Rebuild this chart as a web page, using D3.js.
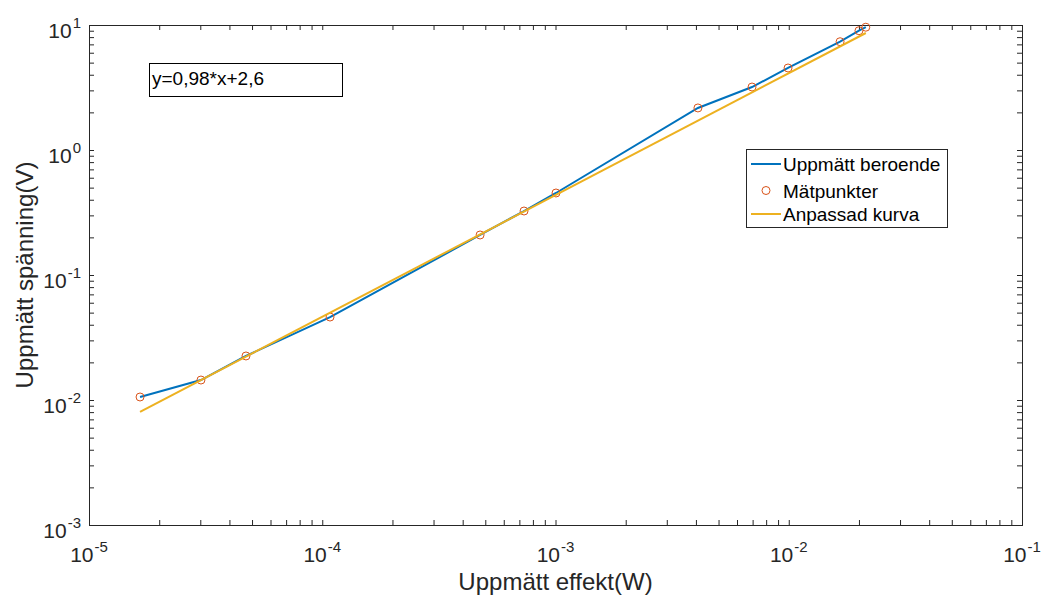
<!DOCTYPE html>
<html>
<head>
<meta charset="utf-8">
<script src="https://cdn.jsdelivr.net/npm/d3@7"></script>
<style>
  body { margin: 0; background: #fff; }
  svg { font-family: "Liberation Sans", Arial, sans-serif; }
</style>
</head>
<body>
<svg id="chart" width="1042" height="596"></svg>
<script>
"use strict";

const effekt = [1.655e-5, 3.02e-5, 4.71e-5, 1.08e-4, 4.75e-4, 7.33e-4, 1.005e-3,
  4.08e-3, 6.96e-3, 9.93e-3, 1.66e-2, 2.0e-2, 2.14e-2];
const spanning = [0.01057, 0.01445, 0.0225, 0.0461, 0.209, 0.325, 0.453,
  2.17, 3.19, 4.53, 7.35, 9.0, 9.6];

// Fitted curve end points
const fitX = [1.655e-5, 2.14e-2];
const fitY = [0.00802, 8.63];

const xMajor = [1e-5, 1e-4, 1e-3, 1e-2, 1e-1];
const xExp = ["-5", "-4", "-3", "-2", "-1"];
const yMajor = [1e-3, 1e-2, 1e-1, 1e0, 1e1];
const yExp = ["-3", "-2", "-1", "0", "1"];

const legendLabels = ["Uppmätt beroende", "Mätpunkter", "Anpassad kurva"];
const equationText = "y=0,98*x+2,6";
const xTitle = "Uppmätt effekt(W)";
const yTitle = "Uppmätt spänning(V)";

const colors = {
  line: "#0072BD",
  marker: "#D95319",
  fit: "#EDB120",
  axis: "#262626"
};

var graph = {};
graph.svg = d3.select("#chart");
graph.margins = { top: 25, right: 20, bottom: 71, left: 89 };
graph.width = 1042 - graph.margins.left - graph.margins.right;
graph.height = 596 - graph.margins.top - graph.margins.bottom;

graph.main_g = graph.svg.append("g")
  .attr("transform", "translate(" + graph.margins.left + "," + graph.margins.top + ")");

var x = d3.scaleLog().domain([1e-5, 1e-1]).range([0, graph.width]);
var y = d3.scaleLog().domain([1e-3, 1e1]).range([graph.height, 0]);

function minors(domain) {
  let out = [];
  for (let e = Math.log10(domain[0]); e < Math.log10(domain[1]); e++) {
    for (let k = 1; k <= 9; k++) out.push(k * Math.pow(10, e));
  }
  out.push(domain[1]);
  return out;
}

const tickLen = 5;

// ticks on all four sides, pointing inward
function drawAxis(gen, transform) {
  let g = graph.main_g.append("g")
    .attr("transform", transform)
    .call(gen);
  g.select(".domain").remove();
  g.selectAll(".tick line").attr("stroke", colors.axis).attr("stroke-width", 1);
  g.selectAll(".tick text").remove();
  return g;
}

drawAxis(d3.axisBottom(x).tickValues(minors(x.domain())).tickSize(-tickLen), "translate(0," + graph.height + ")");
drawAxis(d3.axisTop(x).tickValues(minors(x.domain())).tickSize(-tickLen), "translate(0,0)");
drawAxis(d3.axisLeft(y).tickValues(minors(y.domain())).tickSize(-tickLen), "translate(0,0)");
drawAxis(d3.axisRight(y).tickValues(minors(y.domain())).tickSize(-tickLen), "translate(" + graph.width + ",0)");

// box
graph.main_g.append("rect")
  .attr("x", 0.5).attr("y", 0.5)
  .attr("width", graph.width).attr("height", graph.height)
  .attr("fill", "none")
  .attr("stroke", colors.axis)
  .attr("stroke-width", 1);

// tick labels with superscripts
function powerLabel(sel) {
  sel.append("tspan").text("10");
  sel.append("tspan")
    .attr("dy", -10)
    .attr("dx", 1)
    .attr("font-size", 15)
    .text((d, i) => d.exp);
}

graph.main_g.append("g").selectAll("text")
  .data(xMajor.map((v, i) => ({ v: v, exp: xExp[i] })))
  .join("text")
  .attr("x", d => x(d.v))
  .attr("y", graph.height + 37)
  .attr("text-anchor", "middle")
  .attr("font-size", 21)
  .attr("fill", colors.axis)
  .call(powerLabel);

graph.main_g.append("g").selectAll("text")
  .data(yMajor.map((v, i) => ({ v: v, exp: yExp[i] })))
  .join("text")
  .attr("x", -8)
  .attr("y", d => y(d.v) + 12.5)
  .attr("text-anchor", "end")
  .attr("font-size", 21)
  .attr("fill", colors.axis)
  .call(powerLabel);

// axis titles
graph.svg.append("text")
  .attr("x", graph.margins.left + graph.width / 2)
  .attr("y", 590)
  .attr("text-anchor", "middle")
  .attr("font-size", 24)
  .attr("fill", colors.axis)
  .text(xTitle);

graph.svg.append("text")
  .attr("transform", "translate(33," + (graph.margins.top + graph.height / 2) + ") rotate(-90)")
  .attr("text-anchor", "middle")
  .attr("font-size", 24)
  .attr("fill", colors.axis)
  .text(yTitle);

// data
var pts = effekt.map((v, i) => [v, spanning[i]]);
var line = d3.line().x(d => x(d[0])).y(d => y(d[1]));

graph.main_g.append("path")
  .datum(pts)
  .attr("d", line)
  .attr("fill", "none")
  .attr("stroke", colors.line)
  .attr("stroke-width", 2);

graph.main_g.append("g").selectAll("circle")
  .data(pts)
  .join("circle")
  .attr("cx", d => x(d[0]))
  .attr("cy", d => y(d[1]))
  .attr("r", 4)
  .attr("fill", "none")
  .attr("stroke", colors.marker)
  .attr("stroke-width", 1);

graph.main_g.append("path")
  .datum(fitX.map((v, i) => [v, fitY[i]]))
  .attr("d", line)
  .attr("fill", "none")
  .attr("stroke", colors.fit)
  .attr("stroke-width", 2);

// equation annotation
var eq = graph.svg.append("g");
eq.append("rect")
  .attr("x", 149.5).attr("y", 63.5)
  .attr("width", 193).attr("height", 33)
  .attr("fill", "#fff")
  .attr("stroke", "#000")
  .attr("stroke-width", 1);
eq.append("text")
  .attr("x", 152).attr("y", 85)
  .attr("font-size", 19)
  .attr("fill", "#000")
  .text(equationText);

// legend
var lg = graph.svg.append("g").attr("transform", "translate(746,149)");
lg.append("rect")
  .attr("x", 0.5).attr("y", 0.5)
  .attr("width", 201).attr("height", 78)
  .attr("fill", "#fff")
  .attr("stroke", colors.axis)
  .attr("stroke-width", 1);

var rows = [15, 41.5, 65];
legendLabels.forEach(function(lab, i) {
  let r = lg.append("g").attr("transform", "translate(0," + rows[i] + ")");
  if (i === 1) {
    r.append("circle").attr("cx", 20).attr("cy", 0).attr("r", 4)
      .attr("fill", "none").attr("stroke", colors.marker).attr("stroke-width", 1);
  } else {
    r.append("line").attr("x1", 5).attr("x2", 35).attr("y1", 0).attr("y2", 0)
      .attr("stroke", i === 0 ? colors.line : colors.fit).attr("stroke-width", 2);
  }
  r.append("text")
    .attr("x", 37).attr("y", 7)
    .attr("font-size", 19)
    .attr("fill", "#000")
    .text(lab);
});
</script>
</body>
</html>
